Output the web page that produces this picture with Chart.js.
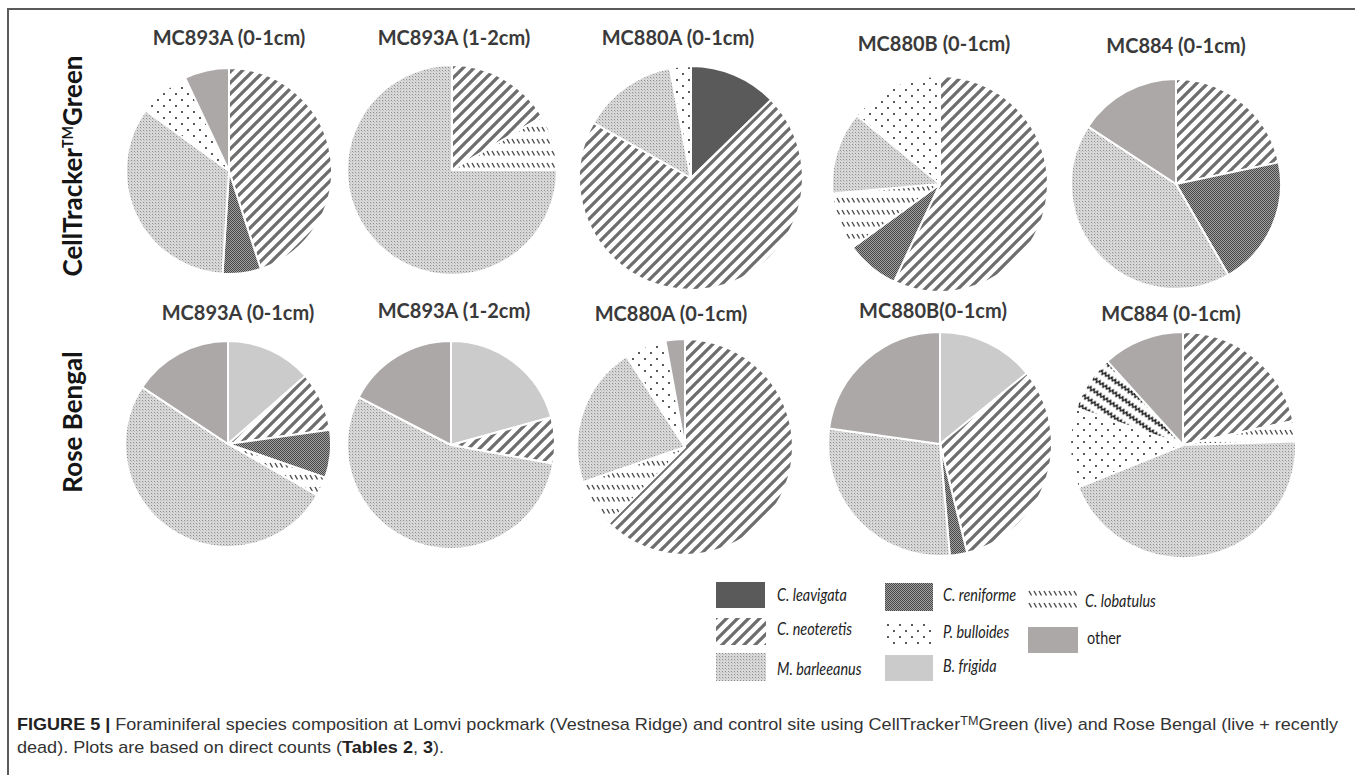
<!DOCTYPE html>
<html>
<head>
<meta charset="utf-8">
<script src="https://cdn.jsdelivr.net/npm/chart.js@4.4.1/dist/chart.umd.min.js"></script>
<style>
  html, body { margin: 0; padding: 0; background: #fff; }
  #fig { position: relative; width: 1355px; height: 775px; overflow: hidden; background: #fff; }
  #frame { position: absolute; left: 7px; top: 8px; width: 1400px; height: 800px;
           border-top: 2px solid #5a5a5a; border-left: 2px solid #5a5a5a; }
  .pie { position: absolute; }
  .ttl { position: absolute; transform: translate(-50%, -50%); font: bold 20px Lato, sans-serif;
         color: #3a3a3a; white-space: nowrap; }
  .row { position: absolute; transform: translate(-50%, -50%) rotate(-90deg); font: bold 26px Lato, sans-serif;
         color: #151515; white-space: nowrap; }
  .row sup { font-size: 0.55em; vertical-align: 0.65em; }
  .lg-box { position: absolute; }
  .lg-txt { position: absolute; transform: translateY(-50%) scaleX(0.8); transform-origin: 0 50%;
            font: italic 18px Lato, sans-serif; color: #222; white-space: nowrap; }
  .lg-txt.up { font-style: normal; }
  .cap { position: absolute; left: 17px; font: 17px "Liberation Sans", Arial, sans-serif; color: #333;
         white-space: nowrap; transform-origin: 0 50%; }
  .cap b { color: #222; }
  .cap sup { font-size: 0.7em; vertical-align: 0.45em; }
</style>
</head>
<body>
<div id="fig">
  <div id="frame"></div>
</div>
<script>
// Species in the order the slices run clockwise from 12 o'clock
const species = ['B. frigida', 'C. leavigata', 'C. neoteretis', 'C. reniforme', 'C. lobatulus',
                 'M. barleeanus', 'P. bulloides', 'unlisted', 'other'];

// Relative abundance (%) per sample, same order as `species`
// CellTracker Green (live)
const ctg_MC893A_0_1 = [0, 0, 45.0, 6.0, 0, 34.0, 8.0, 0, 7.0];
const ctg_MC893A_1_2 = [0, 0, 16.5, 0, 8.5, 75.0, 0, 0, 0];
const ctg_MC880A_0_1 = [0, 12.7, 70.5, 0, 0, 13.8, 3.0, 0, 0];
const ctg_MC880B_0_1 = [0, 0, 57.0, 8.0, 8.6, 12.4, 14.0, 0, 0];
const ctg_MC884_0_1  = [0, 0, 21.7, 20.0, 0, 42.5, 0, 0, 15.8];
// Rose Bengal (live + recently dead)
const rb_MC893A_0_1 = [13.5, 0, 9.3, 7.5, 3.0, 51.0, 0, 0, 15.7];
const rb_MC893A_1_2 = [20.7, 0, 7.2, 0, 0, 54.7, 0, 0, 17.4];
const rb_MC880A_0_1 = [0, 0, 62.5, 0, 7.2, 21.2, 6.2, 0, 2.9];
const rb_MC880B_0_1 = [14.1, 0, 32.0, 2.5, 0, 28.6, 0, 0, 22.8];
const rb_MC884_0_1  = [0, 0, 21.6, 0, 2.9, 44.4, 11.4, 8.0, 11.7];

const titlesCTG = ['MC893A (0-1cm)', 'MC893A (1-2cm)', 'MC880A (0-1cm)', 'MC880B (0-1cm)', 'MC884 (0-1cm)'];
const titlesRB  = ['MC893A (0-1cm)', 'MC893A (1-2cm)', 'MC880A (0-1cm)', 'MC880B(0-1cm)', 'MC884 (0-1cm)'];
const rowLabels = ['CellTracker™Green', 'Rose Bengal'];

const legendItems = [
  ['C. leavigata', 1], ['C. reniforme', 3], ['C. lobatulus', 4],
  ['C. neoteretis', 2], ['P. bulloides', 6], ['other', 8],
  ['M. barleeanus', 5], ['B. frigida', 0]
];

// ---------- fills ----------
function tile(w, h, paint) {
  const c = document.createElement('canvas');
  c.width = w; c.height = h;
  const g = c.getContext('2d');
  paint(g, w, h);
  return c;
}
function pattern(c, angle) {
  const p = document.createElement('canvas').getContext('2d').createPattern(c, 'repeat');
  if (angle) p.setTransform(new DOMMatrix().rotateSelf(angle));
  return p;
}

const fills = [];
// B. frigida: flat light grey
fills[0] = '#cbcbcb';
// C. leavigata: flat dark grey
fills[1] = '#5a5a5a';
// C. neoteretis: wide diagonal stripes
fills[2] = pattern(tile(11, 11, (g, w) => {
  g.fillStyle = '#fff'; g.fillRect(0, 0, w, w);
  g.strokeStyle = '#6e6e6e'; g.lineWidth = 3.3;
  g.beginPath();
  for (const k of [-w, 0, w]) { g.moveTo(k - 2, w + 2); g.lineTo(k + w + 2, -2); }
  g.stroke();
}));
// C. reniforme: dense dark checker
fills[3] = pattern(tile(2, 2, (g) => {
  g.fillStyle = '#a0a0a0'; g.fillRect(0, 0, 2, 2);
  g.fillStyle = '#484848'; g.fillRect(0, 0, 1, 1); g.fillRect(1, 1, 1, 1);
}));
// C. lobatulus: rows of short back-slashes
fills[4] = pattern(tile(5, 12, (g) => {
  g.fillStyle = '#fff'; g.fillRect(0, 0, 5, 12);
  g.strokeStyle = '#4a4a4a'; g.lineWidth = 1.4;
  g.beginPath(); g.moveTo(1, 3); g.lineTo(3.5, 7.5); g.stroke();
}));
// M. barleeanus: fine light stipple
fills[5] = pattern(tile(3, 3, (g) => {
  g.fillStyle = '#d8d8d8'; g.fillRect(0, 0, 3, 3);
  g.fillStyle = '#8e8e8e'; g.fillRect(0, 0, 1, 1);
  g.fillStyle = '#bdbdbd'; g.fillRect(1, 1, 1, 1);
}));
// P. bulloides: sparse black dots
fills[6] = pattern(tile(12, 12, (g) => {
  g.fillStyle = '#fff'; g.fillRect(0, 0, 12, 12);
  g.fillStyle = '#222';
  g.beginPath(); g.arc(3, 3, 1.0, 0, Math.PI * 2); g.arc(9, 9, 1.0, 0, Math.PI * 2); g.fill();
}));
// unlisted taxon: wavy lines running diagonally
fills[7] = pattern(tile(8, 10, (g) => {
  g.fillStyle = '#fff'; g.fillRect(0, 0, 8, 10);
  g.strokeStyle = '#1e1e1e'; g.lineWidth = 1.4;
  g.beginPath(); g.moveTo(0, 6.5); g.lineTo(2, 3); g.lineTo(4, 6.5); g.lineTo(6, 3); g.lineTo(8, 6.5); g.stroke();
}), 35);
// other: flat warm grey
fills[8] = '#aca8a8';

// ---------- layout ----------
const fig = document.getElementById('fig');
const BORDER = 2;

function placeText(cls, html, x, y) {
  const d = document.createElement('div');
  d.className = cls; d.innerHTML = html;
  d.style.left = x + 'px'; d.style.top = y + 'px';
  fig.appendChild(d);
  return d;
}

function drawPie(values, cx, cy, r) {
  const size = 2 * r + BORDER;
  const cv = document.createElement('canvas');
  cv.className = 'pie';
  cv.width = size; cv.height = size;
  cv.style.width = size + 'px'; cv.style.height = size + 'px';
  cv.style.left = (cx - size / 2) + 'px'; cv.style.top = (cy - size / 2) + 'px';
  fig.appendChild(cv);
  const idx = values.map((v, i) => i).filter(i => values[i] > 0);
  new Chart(cv, {
    type: 'pie',
    data: {
      labels: idx.map(i => species[i]),
      datasets: [{
        data: idx.map(i => values[i]),
        backgroundColor: idx.map(i => fills[i]),
        borderColor: '#ffffff',
        borderWidth: BORDER
      }]
    },
    options: {
      responsive: false,
      animation: false,
      layout: { padding: 0 },
      plugins: { legend: { display: false }, tooltip: { enabled: false } }
    }
  });
}

const ctgSets = [ctg_MC893A_0_1, ctg_MC893A_1_2, ctg_MC880A_0_1, ctg_MC880B_0_1, ctg_MC884_0_1];
const rbSets  = [rb_MC893A_0_1, rb_MC893A_1_2, rb_MC880A_0_1, rb_MC880B_0_1, rb_MC884_0_1];

// pie centre x, centre y, radius
const ctgGeom = [[229, 171, 103], [452, 170, 105], [691, 178, 112], [940, 184, 108], [1176, 184, 105]];
const rbGeom  = [[228, 444, 103], [451, 445, 104], [685, 447, 108], [940, 444, 112], [1183, 445, 113]];
const ctgTitlePos = [[229, 37], [454, 37], [678, 37], [934, 43], [1176, 45]];
const rbTitlePos  = [[238, 312], [454, 310], [671, 313], [933, 310], [1171, 313]];

ctgSets.forEach((v, i) => drawPie(v, ...ctgGeom[i]));
rbSets.forEach((v, i) => drawPie(v, ...rbGeom[i]));
titlesCTG.forEach((t, i) => placeText('ttl', t, ...ctgTitlePos[i]));
titlesRB.forEach((t, i) => placeText('ttl', t, ...rbTitlePos[i]));

placeText('row', 'CellTracker<sup>TM</sup>Green', 72, 166);
placeText('row', rowLabels[1], 72, 422);

// ---------- legend ----------
// swatch boxes: [x, y, w, h]
const lgBoxes = [
  [716, 582, 49, 26], [885, 583, 48, 28], [1028, 588, 50, 20],
  [716, 618, 50, 27], [885, 622, 48, 23], [1028, 627, 50, 26],
  [716, 653, 50, 28], [885, 655, 48, 26]
];
const lgLabelPos = [
  [777, 594], [943, 594], [1085, 600],
  [777, 628], [943, 631], [1087, 637],
  [777, 668], [943, 665]
];
legendItems.forEach(([name, si], k) => {
  const [x, y, w, h] = lgBoxes[k];
  const c = document.createElement('canvas');
  c.className = 'lg-box'; c.width = w; c.height = h;
  c.style.left = x + 'px'; c.style.top = y + 'px';
  const g = c.getContext('2d');
  g.fillStyle = fills[si]; g.fillRect(0, 0, w, h);
  fig.appendChild(c);
  placeText('lg-txt' + (name === 'other' ? ' up' : ''), name, ...lgLabelPos[k]);
});

// ---------- caption ----------
const capLines = [
  '<b>FIGURE 5 |</b> Foraminiferal species composition at Lomvi pockmark (Vestnesa Ridge) and control site using CellTracker<sup>TM</sup>Green (live) and Rose Bengal (live + recently',
  'dead). Plots are based on direct counts (<b>Tables 2</b>, <b>3</b>).'
];
const cap1 = placeText('cap', capLines[0], 17, 714);
const cap2 = placeText('cap', capLines[1], 17, 738);
const k = 1321 / cap1.getBoundingClientRect().width;
cap1.style.transform = `scaleX(${k})`;
cap2.style.transform = `scaleX(${k})`;
</script>
</body>
</html>
